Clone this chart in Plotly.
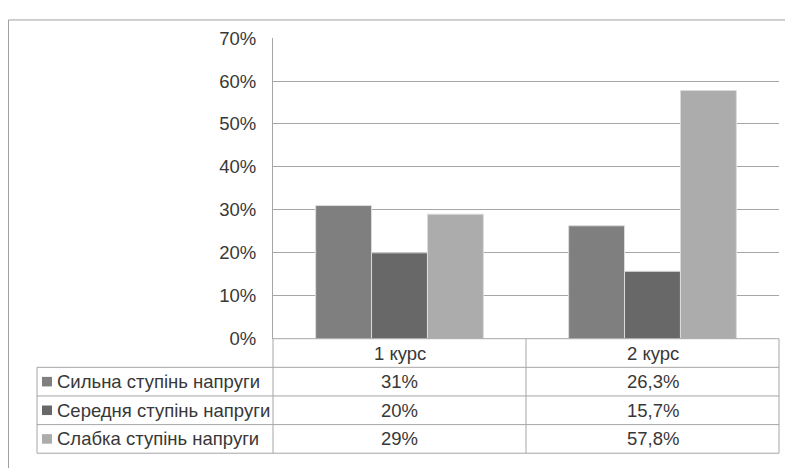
"""Рівень напруги студентів 1 і 2 курсу: стовпчики + таблиця даних під віссю."""
import plotly.graph_objects as go

# сторінка має відступ body 8px, тож фігура на 8px менша за вікно
W, H = 785, 460
OFF = 8

CATEGORIES = ["1 курс", "2 курс"]
SERIES_NAMES = [
    "Сильна ступінь напруги",
    "Середня ступінь напруги",
    "Слабка ступінь напруги",
]
STRONG = [31, 26.3]
MEDIUM = [20, 15.7]
WEAK = [29, 57.8]
Y_TICKS = [0, 10, 20, 30, 40, 50, 60, 70]

SERIES = [STRONG, MEDIUM, WEAK]
COLORS = ["#7f7f7f", "#686868", "#acacac"]
GRID = "#a6a6a6"
TEXT = "#383838"
FONT = "Arial, Liberation Sans, sans-serif"

# межі області побудови / таблиці в пікселях екрана
PLOT_L, PLOT_R = 273, 779
PLOT_T, PLOT_B = 28, 343
TABLE_L = 37
ROW_H = 30


def px(x):
    return (x - OFF) / W


def py(y):
    return 1 - (y - OFF) / H


def fmt(v):
    return f"{v:g}".replace(".", ",") + "%"


fig = go.Figure()
for name, vals, color in zip(SERIES_NAMES, SERIES, COLORS):
    fig.add_trace(
        go.Bar(
            x=CATEGORIES,
            y=vals,
            name=name,
            marker=dict(color=color, line=dict(color="#dcdcdc", width=1)),
            hoverinfo="skip",
        )
    )

shapes = []


def line(x0, y0, x1, y1, color=GRID, width=1):
    shapes.append(
        dict(
            type="line", xref="paper", yref="paper",
            x0=px(x0), y0=py(y0), x1=px(x1), y1=py(y1),
            line=dict(color=color, width=width),
        )
    )


# зовнішня рамка діаграми (виходить за межі кадру справа і знизу)
shapes.append(
    dict(
        type="rect", xref="paper", yref="paper",
        x0=px(8.5), y0=py(490), x1=px(820), y1=py(9),
        line=dict(color="#a0a0a0", width=1), fillcolor="rgba(0,0,0,0)",
        layer="below",
    )
)

# таблиця даних
n_rows = len(SERIES_NAMES)
head_b = PLOT_B + ROW_H
table_b = head_b + n_rows * ROW_H
col_mid = (PLOT_L + PLOT_R) / 2
line(PLOT_L, PLOT_B, PLOT_R, PLOT_B)
for i in range(n_rows + 1):
    yy = head_b + i * ROW_H
    line(TABLE_L, yy, PLOT_R, yy)
line(TABLE_L, head_b, TABLE_L, table_b)
for xx in (PLOT_L, col_mid, PLOT_R):
    line(xx, PLOT_B, xx, table_b)

annotations = []
for j, cat in enumerate(CATEGORIES):
    cx = PLOT_L + (j + 0.5) * (PLOT_R - PLOT_L) / len(CATEGORIES)
    annotations.append(
        dict(
            x=px(cx), y=py(PLOT_B + ROW_H / 2), xref="paper", yref="paper",
            text=cat, showarrow=False, xanchor="center", yanchor="middle",
        )
    )
for i, (name, vals, color) in enumerate(zip(SERIES_NAMES, SERIES, COLORS)):
    cy = head_b + (i + 0.5) * ROW_H
    shapes.append(
        dict(
            type="rect", xref="paper", yref="paper",
            x0=px(42), x1=px(52), y0=py(cy - 5), y1=py(cy + 5),
            fillcolor=color, line=dict(width=0),
        )
    )
    annotations.append(
        dict(
            x=px(55), y=py(cy), xref="paper", yref="paper",
            text=name, showarrow=False, xanchor="left", yanchor="middle",
        )
    )
    for j, v in enumerate(vals):
        cx = PLOT_L + (j + 0.5) * (PLOT_R - PLOT_L) / len(CATEGORIES)
        annotations.append(
            dict(
                x=px(cx), y=py(cy), xref="paper", yref="paper",
                text=fmt(v), showarrow=False, xanchor="center", yanchor="middle",
            )
        )

fig.update_layout(
    width=W,
    height=H,
    margin=dict(l=0, r=0, t=0, b=0),
    paper_bgcolor="white",
    plot_bgcolor="white",
    font=dict(family=FONT, size=18.5, color=TEXT),
    showlegend=False,
    barmode="group",
    bargap=0.337,
    bargroupgap=0,
    xaxis=dict(
        domain=[px(PLOT_L), px(PLOT_R)],
        showticklabels=False,
        showgrid=False,
        zeroline=False,
        showline=False,
        ticks="",
    ),
    yaxis=dict(
        domain=[py(PLOT_B), py(PLOT_T)],
        range=[0, 70],
        tickvals=Y_TICKS,
        ticktext=[f"{t}%" for t in Y_TICKS],
        showgrid=True,
        gridcolor=GRID,
        gridwidth=1,
        zeroline=False,
        showline=True,
        linecolor=GRID,
        ticks="outside",
        ticklen=12,
        tickcolor="rgba(0,0,0,0)",
    ),
    shapes=shapes,
    annotations=annotations,
)

fig.write_html("out.html")
